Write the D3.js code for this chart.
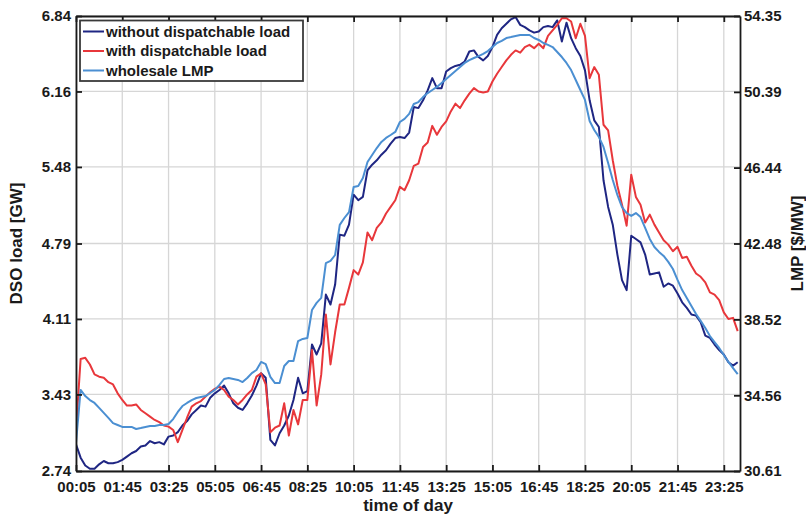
<!DOCTYPE html>
<html>
<head>
<meta charset="utf-8">
<script src="https://cdn.jsdelivr.net/npm/d3@7/dist/d3.min.js"></script>
<style>
  html, body { margin: 0; padding: 0; background: #fff; }
  svg { display: block; }
  text { font-family: "Liberation Sans", Arial, Helvetica, sans-serif; fill: #1a1a1a; }
</style>
</head>
<body>
<svg id="chart" width="806" height="517"></svg>
<script>
// Sample times: every 10 minutes starting at 00:05 (minutes after midnight)
const startMinute = 5;
const stepMinutes = 10;
const sampleCount = 144;

// DSO load without dispatchable load [GW]
const loadWithout = [
  2.98, 2.86, 2.79, 2.76, 2.76, 2.80, 2.83, 2.81, 2.81, 2.82,
  2.84, 2.87, 2.90, 2.92, 2.96, 2.97, 3.01, 2.99, 3.00, 2.98,
  3.05, 3.06, 3.09, 3.15, 3.19, 3.25, 3.29, 3.33, 3.32, 3.40,
  3.44, 3.47, 3.51, 3.44, 3.35, 3.31, 3.29, 3.35, 3.42, 3.51,
  3.62, 3.58, 3.02, 2.97, 3.08, 3.15, 3.24, 3.38, 3.58, 3.44,
  3.46, 3.88, 3.79, 3.89, 4.33, 4.24, 4.42, 4.87, 4.86, 4.96,
  5.23, 5.18, 5.21, 5.45, 5.50, 5.54, 5.59, 5.63, 5.69, 5.74,
  5.75, 5.74, 5.79, 6.02, 6.01, 6.08, 6.17, 6.28, 6.19, 6.19,
  6.34, 6.37, 6.39, 6.40, 6.43, 6.52, 6.53, 6.47, 6.44, 6.48,
  6.56, 6.67, 6.73, 6.77, 6.81, 6.83, 6.76, 6.74, 6.71, 6.69,
  6.70, 6.74, 6.75, 6.74, 6.80, 6.61, 6.78, 6.64, 6.55, 6.48,
  6.35, 6.08, 5.90, 5.84, 5.36, 5.12, 4.96, 4.69, 4.46, 4.37,
  4.86, 4.83, 4.80, 4.69, 4.51, 4.52, 4.53, 4.40, 4.43, 4.41,
  4.34, 4.26, 4.21, 4.15, 4.14, 4.08, 3.96, 3.94, 3.88, 3.83,
  3.79, 3.72, 3.69, 3.72
];

// DSO load with dispatchable load [GW]
const loadWith = [
  3.11, 3.75, 3.76, 3.70, 3.61, 3.59, 3.58, 3.54, 3.52, 3.44,
  3.38, 3.33, 3.33, 3.34, 3.29, 3.26, 3.23, 3.20, 3.18, 3.15,
  3.14, 3.11, 3.00, 3.11, 3.22, 3.32, 3.35, 3.37, 3.41, 3.45,
  3.48, 3.50, 3.47, 3.41, 3.38, 3.34, 3.38, 3.43, 3.47, 3.59,
  3.62, 3.52, 3.09, 3.13, 3.15, 3.35, 3.06, 3.29, 3.16, 3.38,
  3.38, 3.83, 3.33, 3.61, 4.15, 3.70, 3.99, 4.24, 4.24, 4.39,
  4.55, 4.51, 4.62, 4.89, 4.82, 4.93, 4.98, 5.06, 5.12, 5.18,
  5.30, 5.27, 5.36, 5.49, 5.51, 5.66, 5.70, 5.85, 5.77, 5.84,
  5.89, 5.98, 6.05, 6.01, 6.08, 6.14, 6.19, 6.16, 6.15, 6.16,
  6.25, 6.32, 6.38, 6.44, 6.49, 6.53, 6.51, 6.56, 6.58, 6.55,
  6.59, 6.55, 6.66, 6.71, 6.76, 6.82, 6.82, 6.79, 6.64, 6.77,
  6.66, 6.28, 6.38, 6.31, 5.86, 5.81, 5.54, 5.31, 5.14, 4.95,
  5.41, 5.21, 5.14, 4.98, 5.05, 4.96, 4.89, 4.82, 4.78, 4.72,
  4.76, 4.66, 4.67, 4.59, 4.52, 4.49, 4.44, 4.35, 4.33, 4.28,
  4.17, 4.11, 4.12, 4.00
];

// Wholesale LMP [$/MW]
const lmp = [
  32.07, 34.84, 34.52, 34.31, 34.16, 33.90, 33.64, 33.38, 33.11, 33.01,
  32.91, 32.91, 32.91, 32.80, 32.85, 32.91, 32.96, 32.96, 33.01, 33.01,
  33.06, 33.32, 33.69, 34.00, 34.16, 34.31, 34.42, 34.47, 34.52, 34.68,
  34.84, 35.10, 35.41, 35.46, 35.41, 35.36, 35.25, 35.46, 35.72, 35.88,
  36.30, 36.19, 35.52, 35.20, 35.20, 36.09, 36.35, 36.35, 37.39, 37.50,
  37.55, 39.01, 39.38, 39.64, 41.46, 41.57, 41.88, 43.45, 43.81, 44.12,
  45.43, 45.48, 45.90, 46.73, 47.10, 47.46, 47.78, 47.99, 48.14, 48.30,
  48.82, 48.98, 49.24, 49.76, 49.86, 50.12, 50.33, 50.49, 50.65, 50.85,
  51.06, 51.27, 51.48, 51.69, 51.90, 52.05, 52.16, 52.26, 52.37, 52.52,
  52.73, 52.94, 53.05, 53.20, 53.25, 53.31, 53.36, 53.36, 53.36, 53.20,
  53.10, 52.94, 52.84, 52.73, 52.47, 52.21, 51.90, 51.53, 51.01, 50.49,
  49.97, 48.87, 48.40, 48.04, 47.52, 46.68, 45.79, 45.01, 44.38, 44.07,
  43.92, 44.07, 43.86, 43.29, 42.72, 42.30, 42.04, 41.83, 41.52, 41.15,
  40.58, 40.05, 39.64, 39.22, 38.80, 38.44, 38.07, 37.65, 37.34, 37.03,
  36.66, 36.30, 35.98, 35.67
];

// Axis tick labels
const xTickLabels = ["00:05", "01:45", "03:25", "05:05", "06:45", "08:25", "10:05",
                     "11:45", "13:25", "15:05", "16:45", "18:25", "20:05", "21:45", "23:25"];
const leftTickLabels = ["2.74", "3.43", "4.11", "4.79", "5.48", "6.16", "6.84"];
const rightTickLabels = ["30.61", "34.56", "38.52", "42.48", "46.44", "50.39", "54.35"];

const seriesNames = ["without dispatchable load", "with dispatchable load", "wholesale LMP"];
const seriesColors = ["#1f2683", "#e8373b", "#4b8fd2"];

const minutes = d3.range(sampleCount).map(i => startMinute + i * stepMinutes);
const toMinutes = s => { const [h, m] = s.split(":").map(Number); return h * 60 + m; };

const margin = { left: 76, right: 66, top: 16, bottom: 46 };
const W = 806, H = 517;
const plotW = W - margin.left - margin.right;
const plotH = H - margin.top - margin.bottom;

const svg = d3.select("#chart");

const x = d3.scaleLinear().domain([5, 1440]).range([0, plotW]);
const yL = d3.scaleLinear().domain([+leftTickLabels[0], +leftTickLabels[6]]).range([plotH, 0]);
const yR = d3.scaleLinear().domain([+rightTickLabels[0], +rightTickLabels[6]]).range([plotH, 0]);

const g = svg.append("g").attr("transform", `translate(${margin.left},${margin.top})`);

g.append("clipPath").attr("id", "plotClip")
  .append("rect").attr("x", 0).attr("y", -1).attr("width", plotW).attr("height", plotH + 2);

// grid
const xTickValues = xTickLabels.map(toMinutes);
const grid = g.append("g").attr("stroke", "#d6d6d6").attr("stroke-width", 1.3);
grid.selectAll("line.v").data(xTickValues).join("line")
  .attr("x1", d => x(d)).attr("x2", d => x(d)).attr("y1", 0).attr("y2", plotH);
grid.selectAll("line.h").data(leftTickLabels.map(Number)).join("line")
  .attr("y1", d => yL(d)).attr("y2", d => yL(d)).attr("x1", 0).attr("x2", plotW);

// series
const lineL = d3.line().x((d, i) => x(minutes[i])).y(d => yL(d));
const lineR = d3.line().x((d, i) => x(minutes[i])).y(d => yR(d));
const lines = g.append("g").attr("clip-path", "url(#plotClip)")
  .attr("fill", "none").attr("stroke-width", 2).attr("stroke-linejoin", "round");
lines.append("path").attr("d", lineL(loadWithout)).attr("stroke", seriesColors[0]);
lines.append("path").attr("d", lineL(loadWith)).attr("stroke", seriesColors[1]);
lines.append("path").attr("d", lineR(lmp)).attr("stroke", seriesColors[2]);

// axes (ticks pointing inward)
const fontSize = 15;
function styleAxis(sel) {
  sel.select(".domain").attr("stroke", "#1a1a1a").attr("stroke-width", 1.8);
  sel.selectAll(".tick line").attr("stroke", "#1a1a1a").attr("stroke-width", 1.8);
  sel.selectAll(".tick text").attr("font-size", fontSize).attr("font-weight", "bold").attr("fill", "#1a1a1a");
}

g.append("g").attr("transform", `translate(0,${plotH})`)
  .call(d3.axisBottom(x).tickValues(xTickValues).tickFormat((d, i) => xTickLabels[i])
    .tickSize(-6).tickSizeOuter(0).tickPadding(10))
  .call(styleAxis);

g.append("g")
  .call(d3.axisTop(x).tickValues(xTickValues).tickFormat("").tickSize(-6).tickSizeOuter(0))
  .call(styleAxis);

g.append("g")
  .call(d3.axisLeft(yL).tickValues(leftTickLabels.map(Number)).tickFormat((d, i) => leftTickLabels[i])
    .tickSize(-6).tickSizeOuter(0).tickPadding(5))
  .call(styleAxis);

g.append("g").attr("transform", `translate(${plotW},0)`)
  .call(d3.axisRight(yR).tickValues(rightTickLabels.map(Number)).tickFormat((d, i) => rightTickLabels[i])
    .tickSize(-6).tickSizeOuter(0).tickPadding(4))
  .call(styleAxis);

// axis titles
svg.append("text")
  .attr("x", margin.left + plotW / 2).attr("y", 511)
  .attr("text-anchor", "middle").attr("font-size", 17).attr("font-weight", "bold")
  .text("time of day");

svg.append("text")
  .attr("transform", `translate(22,${margin.top + plotH / 2}) rotate(-90)`)
  .attr("text-anchor", "middle").attr("font-size", 17).attr("font-weight", "bold")
  .text("DSO load [GW]");

svg.append("text")
  .attr("transform", `translate(803,${margin.top + plotH / 2}) rotate(-90)`)
  .attr("text-anchor", "middle").attr("font-size", 17).attr("font-weight", "bold")
  .text("LMP [$/MW]");

// legend
const legend = svg.append("g").attr("transform", "translate(80,20.5)");
legend.append("rect").attr("width", 223).attr("height", 60.5)
  .attr("fill", "#fff").attr("stroke", "#3a3a3a").attr("stroke-width", 1.8);
seriesNames.forEach((name, i) => {
  const cy = 11 + i * 19.5;
  legend.append("line").attr("x1", 3).attr("x2", 24).attr("y1", cy).attr("y2", cy)
    .attr("stroke", seriesColors[i]).attr("stroke-width", 2);
  legend.append("text").attr("x", 26).attr("y", cy).attr("dy", "0.35em")
    .attr("font-size", fontSize).attr("font-weight", "bold").text(name);
});
</script>
</body>
</html>
